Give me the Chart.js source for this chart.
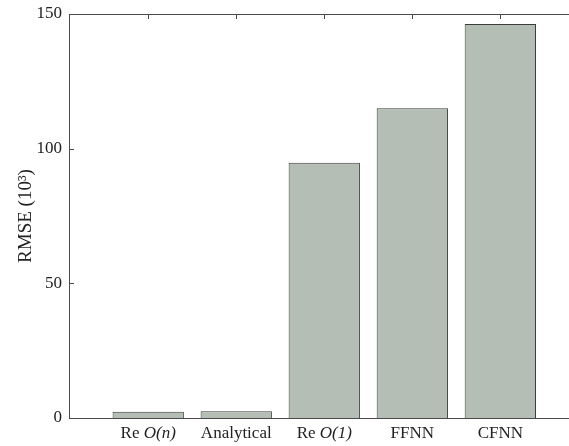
<!DOCTYPE html>
<html>
<head>
<meta charset="utf-8">
<script src="https://cdn.jsdelivr.net/npm/chart.js@4/dist/chart.umd.min.js"></script>
<style>
  html, body { margin: 0; padding: 0; background: #fff; overflow: hidden; }
  #wrap { width: 569px; height: 446px; position: relative; }
</style>
</head>
<body>
<div id="wrap"><canvas id="c"></canvas></div>
<script>
// Method names: plain prefix and italic part of each label
const methods = ['Re O(n)', 'Analytical', 'Re O(1)', 'FFNN', 'CFNN'];
const labelPlain = ['Re ', 'Analytical', 'Re ', 'FFNN', 'CFNN'];
const labelItalic = ['O(n)', '', 'O(1)', '', ''];
// RMSE values in units of 10^3
const rmse = [2.3, 2.5, 94.8, 115.0, 146.3];
const yTicks = [0, 50, 100, 150];

const FONT = '"Liberation Serif", "DejaVu Serif", serif';
const AXIS = '#4a4a4a';

// Inward tick marks, top frame line and mixed-style category labels
const frame = {
  id: 'frame',
  afterDraw(chart) {
    const { ctx, chartArea: a, scales: { x, y } } = chart;
    ctx.save();
    ctx.strokeStyle = AXIS;
    ctx.lineWidth = 1;
    ctx.beginPath();
    ctx.moveTo(a.left, Math.round(a.top) + 0.5);
    ctx.lineTo(a.right, Math.round(a.top) + 0.5);
    methods.forEach((m, i) => {
      const px = Math.round(x.getPixelForValue(i + 1)) + 0.5;
      ctx.moveTo(px, a.top);
      ctx.lineTo(px, a.top + 5);
    });
    yTicks.forEach(v => {
      const py = Math.round(y.getPixelForValue(v)) + 0.5;
      ctx.moveTo(a.left, py);
      ctx.lineTo(a.left + 5, py);
    });
    ctx.stroke();

    ctx.fillStyle = '#222';
    ctx.textBaseline = 'middle';
    ctx.textAlign = 'left';
    const plainFont = '17px ' + FONT;
    const italFont = 'italic 17px ' + FONT;
    methods.forEach((m, i) => {
      const cx = x.getPixelForValue(i + 1);
      ctx.font = plainFont;
      const w1 = ctx.measureText(labelPlain[i]).width;
      ctx.font = italFont;
      const w2 = ctx.measureText(labelItalic[i]).width;
      let sx = cx - (w1 + w2) / 2;
      const ty = a.bottom + 16;
      ctx.font = plainFont;
      ctx.fillText(labelPlain[i], sx, ty);
      ctx.font = italFont;
      ctx.fillText(labelItalic[i], sx + w1, ty);
    });
    ctx.restore();
  }
};

new Chart(document.getElementById('c'), {
  type: 'bar',
  data: {
    datasets: [{
      data: rmse.map((v, i) => ({ x: i + 1, y: v })),
      backgroundColor: '#b4beb4',
      borderColor: '#3c3c3c',
      borderWidth: 1,
      barPercentage: 0.81,
      categoryPercentage: 1.0
    }]
  },
  options: {
    responsive: true,
    maintainAspectRatio: false,
    animation: false,
    layout: { padding: { top: 14, right: 0, left: 0, bottom: 0 } },
    plugins: { legend: { display: false }, tooltip: { enabled: false } },
    scales: {
      x: {
        type: 'linear',
        offset: false,
        min: 0.1,
        max: 5.78,
        grid: { display: false, drawTicks: false },
        border: { display: true, color: AXIS, width: 1 },
        ticks: { display: false },
        afterBuildTicks: s => { s.ticks = methods.map((m, i) => ({ value: i + 1 })); },
        afterFit: s => { s.height = 28; s.paddingLeft = 0; s.paddingRight = 0; }
      },
      y: {
        min: 0,
        max: 150,
        grid: { display: false, drawTicks: false },
        border: { display: true, color: AXIS, width: 1 },
        afterBuildTicks: s => { s.ticks = yTicks.map(v => ({ value: v })); },
        ticks: {
          color: '#222',
          padding: 7,
          font: { family: FONT, size: 17 }
        },
        title: {
          display: true,
          text: 'RMSE (10³)',
          color: '#222',
          font: { family: FONT, size: 19 },
          padding: { top: 15, bottom: 0 }
        },
        afterFit: s => { s.width = 69; s.paddingTop = 0; s.paddingBottom = 0; }
      }
    }
  },
  plugins: [frame]
});
</script>
</body>
</html>
